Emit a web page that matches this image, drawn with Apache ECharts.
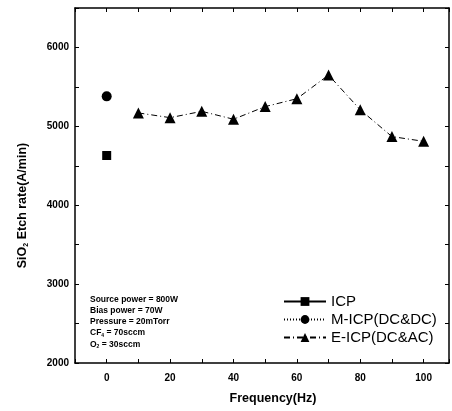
<!DOCTYPE html>
<html>
<head>
<meta charset="utf-8">
<script src="https://cdn.jsdelivr.net/npm/echarts@6/dist/echarts.min.js"></script>
<style>html,body{margin:0;padding:0;background:#fff;}#c{width:452px;height:411px;}</style>
</head>
<body>
<div id="c"></div>
<script>
const icpFreq = [0];
const icpRate = [4630];
const micpFreq = [0];
const micpRate = [5380];
const eicpFreq = [10, 20, 30, 40, 50, 60, 70, 80, 90, 100];
const eicpRate = [5170, 5110, 5190, 5090, 5250, 5350, 5650, 5210, 4870, 4810];
const xLabels = [0, 20, 40, 60, 80, 100];
const yLabels = [2000, 3000, 4000, 5000, 6000];
const notes = ['Source power = 800W', 'Bias power = 70W', 'Pressure = 20mTorr', 'CF{s|4} = 70sccm', 'O{s|2} = 30sccm'];

const pair = (xs, ys) => xs.map((x, i) => [x, ys[i]]);
const F = 'Liberation Sans, Arial, sans-serif';
const chart = echarts.init(document.getElementById('c'));
const tickIn = {inside: true, length: 4, lineStyle: {color: '#000', width: 1}};
const line = {show: true, onZero: false, lineStyle: {color: '#000', width: 1.5}};
chart.setOption({
  animation: false,
  backgroundColor: '#fff',
  grid: {left: 75, right: 2, top: 8, bottom: 48},
  xAxis: [{
    type: 'value', min: -10, max: 108, interval: 10,
    axisLine: line,
    axisTick: tickIn,
    splitLine: {show: false},
    axisLabel: {color: '#000', fontFamily: F, fontWeight: 'bold', fontSize: 10, margin: 10,
      formatter: v => xLabels.includes(v) ? String(v) : ''},
    name: 'Frequency(Hz)', nameLocation: 'middle', nameGap: 29,
    nameTextStyle: {color: '#000', fontFamily: F, fontWeight: 'bold', fontSize: 12.5, padding: [0, 0, 0, 22]}
  }, {
    type: 'value', position: 'top', min: -10, max: 108, interval: 10,
    axisLine: line,
    axisTick: tickIn, axisLabel: {show: false}, splitLine: {show: false}
  }],
  yAxis: [{
    type: 'value', min: 2000, max: 6500, interval: 500,
    axisLine: line,
    axisTick: tickIn,
    splitLine: {show: false},
    axisLabel: {color: '#000', fontFamily: F, fontWeight: 'bold', fontSize: 10, margin: 6,
      formatter: v => yLabels.includes(v) ? String(v) : ''},
    name: 'SiO{s|2} Etch rate(A/min)', nameLocation: 'middle', nameGap: 45,
    nameTextStyle: {color: '#000', fontFamily: F, fontWeight: 'bold', fontSize: 12.5, padding: [0, 0, 0, -40],
      rich: {s: {fontSize: 7, fontWeight: 'bold', fontFamily: F, color: '#000', verticalAlign: 'bottom', padding: [8, 0, 0, 0]}}}
  }, {
    type: 'value', position: 'right', min: 2000, max: 6500, interval: 500,
    axisLine: line,
    axisTick: tickIn, axisLabel: {show: false}, splitLine: {show: false}
  }],
  legend: {
    orient: 'vertical', left: 278, top: 289, itemGap: 3, itemWidth: 42, itemHeight: 11,
    textStyle: {color: '#000', fontFamily: F, fontSize: 15},
    data: ['ICP', 'M-ICP(DC&DC)', 'E-ICP(DC&AC)']
  },
  series: [
    {name: 'ICP', type: 'line', data: pair(icpFreq, icpRate), symbol: 'rect', symbolSize: 9,
      itemStyle: {color: '#000'}, lineStyle: {color: '#000', width: 1.2, type: 'solid'}},
    {name: 'M-ICP(DC&DC)', type: 'line', data: pair(micpFreq, micpRate), symbol: 'circle', symbolSize: 10,
      itemStyle: {color: '#000'}, lineStyle: {color: '#000', width: 1, type: [1, 2]}},
    {name: 'E-ICP(DC&AC)', type: 'line', data: pair(eicpFreq, eicpRate), symbol: 'triangle', symbolSize: 11,
      itemStyle: {color: '#000'}, lineStyle: {color: '#000', width: 1, type: [6, 3, 1, 3]}}
  ],
  graphic: notes.map((t, i) => ({
    type: 'text', left: 90, top: 295 + i * 11.2,
    style: {text: t, fill: '#000', font: 'bold 8.5px ' + F,
      rich: {s: {fontSize: 5, fontWeight: 'bold', fontFamily: F, fill: '#000', verticalAlign: 'bottom', padding: [5, 0, 0, 0]}}}
  }))
});
</script>
</body>
</html>
